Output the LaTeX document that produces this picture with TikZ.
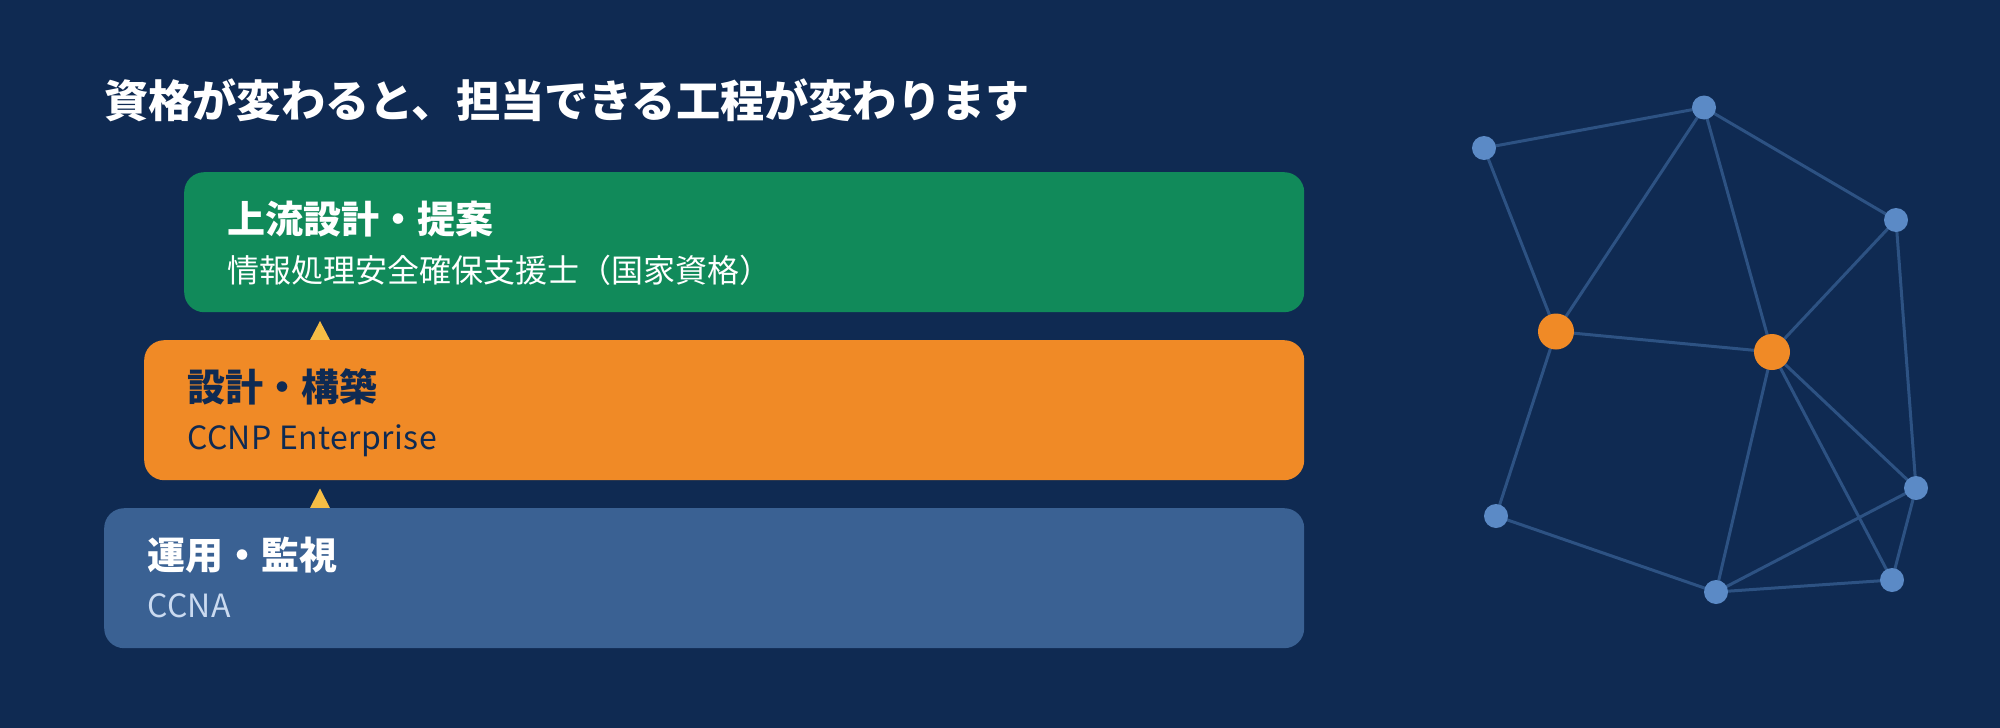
\documentclass[tikz,border=0pt]{standalone}
\usepackage{fontspec}
\setmainfont{Noto Sans CJK JP}
\pgfdeclarelayer{bgl}
\pgfdeclarelayer{edges}
\pgfsetlayers{bgl,edges,main}
\definecolor{bgc}{HTML}{0F2A52}
\definecolor{greenc}{HTML}{118A5A}
\definecolor{orangec}{HTML}{F08A26}
\definecolor{bluec}{HTML}{3A6193}
\definecolor{navyc}{HTML}{0F2A52}
\definecolor{paleblue}{HTML}{CADAF0}
\definecolor{dotblue}{HTML}{5B8AC6}
\definecolor{edgec}{HTML}{2D5283}
\definecolor{triyel}{HTML}{F6BD45}
\begin{document}
\begin{tikzpicture}[x=1pt,y=-1pt,
  tier/.style={anchor=north west, rounded corners=20pt, minimum height=140pt, inner sep=0pt, draw=none},
  txt/.style={anchor=base west, inner sep=0pt},
  ttl/.style={txt, font=\bfseries\fontsize{44.2pt}{52pt}\selectfont, text=white},
  head/.style={txt, font=\bfseries\fontsize{38pt}{44pt}\selectfont},
  sub/.style={txt, font=\fontsize{32pt}{38pt}\selectfont},
  latin/.style={sub, font=\fontsize{32pt}{38pt}\selectfont\addfontfeature{LetterSpace=1.3}},
  tri/.style={fill=triyel},
  dot/.style={circle, fill=dotblue, minimum size=24pt, inner sep=0pt},
  hub/.style={circle, fill=orangec, minimum size=36pt, inner sep=0pt},
  link/.style={draw=edgec, line width=3pt}]
\begin{pgfonlayer}{bgl}
\fill[bgc] (0,0) rectangle (2000,728);
\end{pgfonlayer}
\useasboundingbox (0,0) rectangle (2000,728);

% title
\node[ttl] (title) at (104,117) {資格が変わると、担当できる工程が変わります};

% triangles
\fill[tri] (309,342) -- (320,321) -- (331,342) -- cycle;
\fill[tri] (309,510) -- (320,488.5) -- (331,510) -- cycle;

% tiers
\node[tier, fill=greenc, minimum width=1120pt] (top) at (184,172) {};
\node[tier, fill=orangec, minimum width=1160pt] (mid) at (144,340) {};
\node[tier, fill=bluec, minimum width=1200pt] (low) at (104,508) {};

\node[head, text=white] (toph) at (227,233) {上流設計・提案};
\node[sub, text=white] (tops) at (227,282) {情報処理安全確保支援士（国家資格）};
\node[head, text=navyc] (midh) at (187,401) {設計・構築};
\node[latin, text=navyc] (mids) at (187,449.3) {CCNP Enterprise};
\node[head, text=white] (lowh) at (147,569) {運用・監視};
\node[latin, text=paleblue] (lows) at (147,617.3) {CCNA};

% network
\node[dot] (a) at (1484,148) {};
\node[dot] (b) at (1704,107.5) {};
\node[dot] (c) at (1896,220) {};
\node[hub] (o1) at (1556,331.5) {};
\node[hub] (o2) at (1772,352) {};
\node[dot] (d) at (1496,516) {};
\node[dot] (e) at (1916,488) {};
\node[dot] (f) at (1716,592) {};
\node[dot] (g) at (1892,580) {};
\begin{pgfonlayer}{edges}
\foreach \u/\v in {a/b,a/o1,b/o1,b/o2,b/c,c/o2,c/e,o1/o2,o1/d,d/f,o2/f,o2/e,o2/g,e/f,e/g,f/g}
  \draw[link] (\u.center) -- (\v.center);
\end{pgfonlayer}
\end{tikzpicture}
\end{document}
